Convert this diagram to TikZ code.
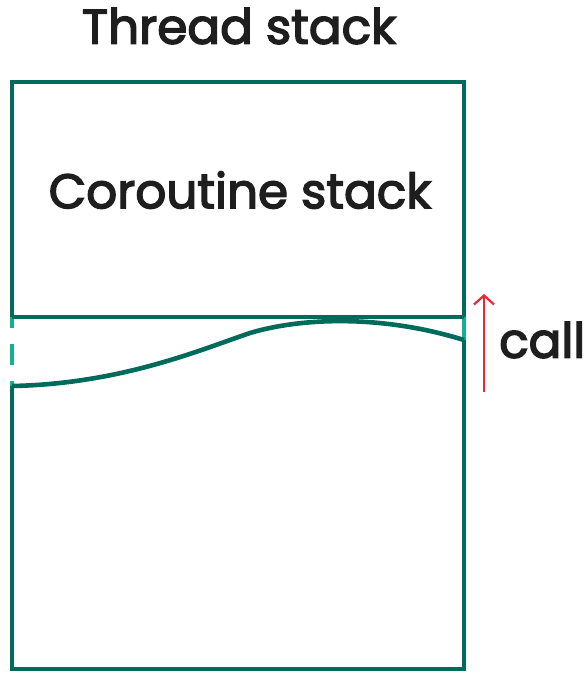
\documentclass[tikz,border=0pt]{standalone}
\usepackage{fontspec}
\usetikzlibrary{arrows.meta}
\setmainfont{Poppins}[FakeBold=3]
\definecolor{dteal}{HTML}{006B5A}
\definecolor{lteal}{HTML}{14B08F}
\definecolor{cred}{HTML}{E8273A}
\definecolor{ink}{HTML}{1E1E1E}
\begin{document}
\begin{tikzpicture}[x=1pt,y=-1pt,
  wall/.style={draw=dteal,line width=4.6pt},
  gapline/.style={draw=lteal,line width=4.6pt},
  lbl/.style={text=ink,font=\fontsize{48.5}{52}\selectfont,inner sep=0pt}]
\useasboundingbox (0,0) rectangle (585,673);
\coordinate (tl) at (12,82);
\coordinate (tr) at (464,82);
\coordinate (bl) at (12,669);
\coordinate (br) at (464,669);
\coordinate (ml) at (12,317);
\coordinate (mr) at (464,317);
\coordinate (cl) at (12,386);
\coordinate (cr) at (464,340);
% light gaps
\draw[gapline] (ml) -- (12,328);
\draw[gapline] (12,344) -- (12,365);
\draw[gapline] (12,381) -- (cl);
\draw[gapline] (mr) -- (cr);
% walls
\draw[wall,line join=miter] (ml) -- (tl) -- (tr) -- (mr);
\draw[wall] (ml) -- (mr);
\draw[wall,line join=miter] (cl) -- (bl) -- (br) -- (cr);
\draw[wall] (cl) .. controls (120,384) and (200,350) .. (250,333)
  .. controls (300,318) and (380,314) .. (cr);
% arrow
\coordinate (a1) at (484,392);
\coordinate (a2) at (484,294);
\draw[cred,line width=2.2pt,-{Straight Barb[length=9pt,width=20pt]}] (a1) -- (a2);
\node[lbl,anchor=west] (call) at (499,340) {call};
\node[lbl] (title) at (239,26) {Thread stack};
\node[lbl] (co) at (240,190) {Coroutine stack};
\end{tikzpicture}
\end{document}
